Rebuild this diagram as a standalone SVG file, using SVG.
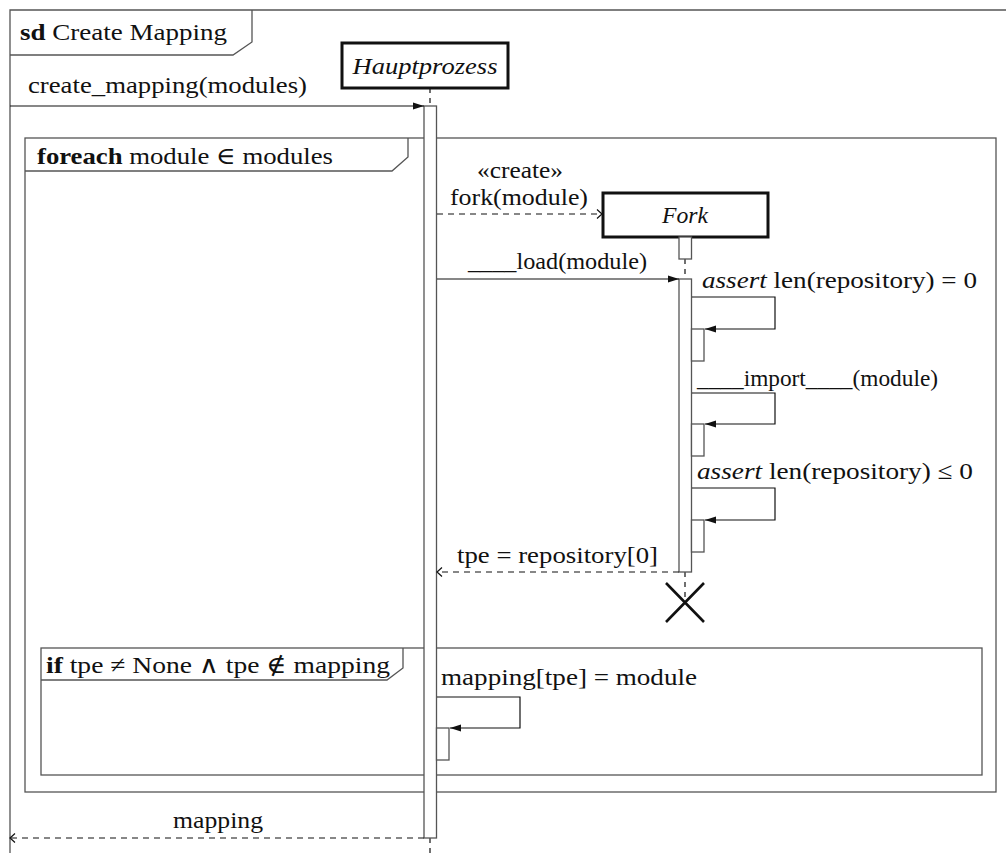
<svg xmlns="http://www.w3.org/2000/svg" width="1006" height="853" viewBox="0 0 1006 853">
  <style>
    text { font-family: 'Liberation Serif', 'DejaVu Serif', serif; font-size: 24px; fill: #111; }
    .it { font-style: italic; }
    .bf { font-weight: bold; }
    .frame { fill: none; stroke: #555; stroke-width: 1.3; }
    .head { fill: #fff; stroke: #111; stroke-width: 3; }
    .act { fill: #fff; stroke: #555; stroke-width: 1.3; }
    .life { stroke: #111; stroke-width: 1.2; stroke-dasharray: 5 5; fill: none; }
    .msg { stroke: #111; stroke-width: 1.2; fill: none; }
    .ret { stroke: #111; stroke-width: 1.2; fill: none; stroke-dasharray: 6 5; }
  </style>
  <defs>
    <marker id="filled" markerUnits="userSpaceOnUse" markerWidth="12" markerHeight="10" refX="11" refY="5" orient="auto">
      <path d="M0,1.5 L11,5 L0,8.5 Z" fill="#111"/>
    </marker>
    <marker id="open" markerUnits="userSpaceOnUse" markerWidth="10" markerHeight="12" refX="7" refY="6" orient="auto">
      <path d="M2,1.5 L7,6 L2,10.5" fill="none" stroke="#111" stroke-width="1.2"/>
    </marker>
  </defs>

  <!-- outer sequence-diagram frame (open to the right and bottom) -->
  <g id="frame-sd">
    <path class="frame" d="M10,853 L10,10 L1006,10"/>
    <path class="frame" d="M10,55 L233,55 L252,42 L252,10"/>
    <text x="20" y="40" textLength="207" lengthAdjust="spacingAndGlyphs"><tspan class="bf">sd</tspan> Create Mapping</text>
  </g>

  <!-- foreach loop fragment -->
  <g id="frame-foreach">
    <rect class="frame" x="25" y="138" width="971" height="654"/>
    <path class="frame" d="M25,171 L392,171 L408,157 L408,138"/>
    <text x="37" y="164" textLength="296" lengthAdjust="spacingAndGlyphs"><tspan class="bf">foreach</tspan> module ∈ modules</text>
  </g>

  <!-- if fragment -->
  <g id="frame-if">
    <rect class="frame" x="41" y="648" width="941" height="127"/>
    <path class="frame" d="M41,680 L387,680 L403,668 L403,648"/>
    <text x="46" y="673" textLength="344" lengthAdjust="spacingAndGlyphs"><tspan class="bf">if</tspan> tpe ≠ None ∧ tpe ∉ mapping</text>
  </g>

  <!-- Hauptprozess lifeline -->
  <g id="hauptprozess">
    <line class="life" x1="430" y1="88" x2="430" y2="106"/>
    <line class="life" x1="430" y1="838" x2="430" y2="853"/>
    <rect class="head" x="342" y="43" width="166" height="45"/>
    <text class="it" x="425" y="74" text-anchor="middle" textLength="145" lengthAdjust="spacingAndGlyphs">Hauptprozess</text>
    <rect class="act" x="424" y="106" width="12.5" height="732"/>
    <rect class="act" x="436.5" y="728" width="12.5" height="32"/>
  </g>

  <!-- Fork lifeline -->
  <g id="fork">
    <line class="life" x1="685" y1="259" x2="685" y2="279"/>
    <line class="life" x1="685" y1="572" x2="685" y2="602"/>
    <rect class="head" x="603" y="193" width="165" height="44"/>
    <text class="it" x="685" y="223" text-anchor="middle" textLength="46" lengthAdjust="spacingAndGlyphs">Fork</text>
    <rect class="act" x="679" y="237" width="12.5" height="22"/>
    <rect class="act" x="679" y="279" width="12.5" height="293"/>
    <rect class="act" x="691.5" y="329" width="12.5" height="32"/>
    <rect class="act" x="691.5" y="424" width="12.5" height="32"/>
    <rect class="act" x="691.5" y="520" width="12.5" height="32"/>
    <path d="M666,583 L704,622 M704,583 L666,622" stroke="#111" stroke-width="2.6" fill="none"/>
  </g>

  <!-- messages -->
  <g id="connectors">
    <line class="msg" x1="10" y1="106" x2="424" y2="106" marker-end="url(#filled)"/>
    <line class="ret" x1="437" y1="214" x2="602" y2="214" marker-end="url(#open)"/>
    <line class="msg" x1="437" y1="279" x2="679" y2="279" marker-end="url(#filled)"/>
    <path class="msg" d="M692,297 L775,297 L775,329 L705,329" marker-end="url(#filled)"/>
    <path class="msg" d="M692,393 L775,393 L775,424 L705,424" marker-end="url(#filled)"/>
    <path class="msg" d="M692,488 L775,488 L775,520 L705,520" marker-end="url(#filled)"/>
    <line class="ret" x1="679" y1="572" x2="437" y2="572" marker-end="url(#open)"/>
    <path class="msg" d="M437,697 L520,697 L520,728 L450,728" marker-end="url(#filled)"/>
    <line class="ret" x1="424" y1="838" x2="10" y2="838" marker-end="url(#open)"/>

    <text x="28" y="93" textLength="279" lengthAdjust="spacingAndGlyphs">create_mapping(modules)</text>
    <text x="477" y="178" textLength="86" lengthAdjust="spacingAndGlyphs">«create»</text>
    <text x="450" y="205" textLength="138" lengthAdjust="spacingAndGlyphs">fork(module)</text>
    <text x="468" y="269" textLength="179" lengthAdjust="spacingAndGlyphs">____load(module)</text>
    <text x="702" y="288" textLength="275" lengthAdjust="spacingAndGlyphs"><tspan class="it">assert</tspan> len(repository) = 0</text>
    <text x="697" y="386" textLength="241" lengthAdjust="spacingAndGlyphs">____import____(module)</text>
    <text x="697" y="479" textLength="276" lengthAdjust="spacingAndGlyphs"><tspan class="it">assert</tspan> len(repository) ≤ 0</text>
    <text x="457" y="563" textLength="201" lengthAdjust="spacingAndGlyphs">tpe = repository[0]</text>
    <text x="441" y="685" textLength="256" lengthAdjust="spacingAndGlyphs">mapping[tpe] = module</text>
    <text x="173" y="828" textLength="90" lengthAdjust="spacingAndGlyphs">mapping</text>
  </g>
</svg>
